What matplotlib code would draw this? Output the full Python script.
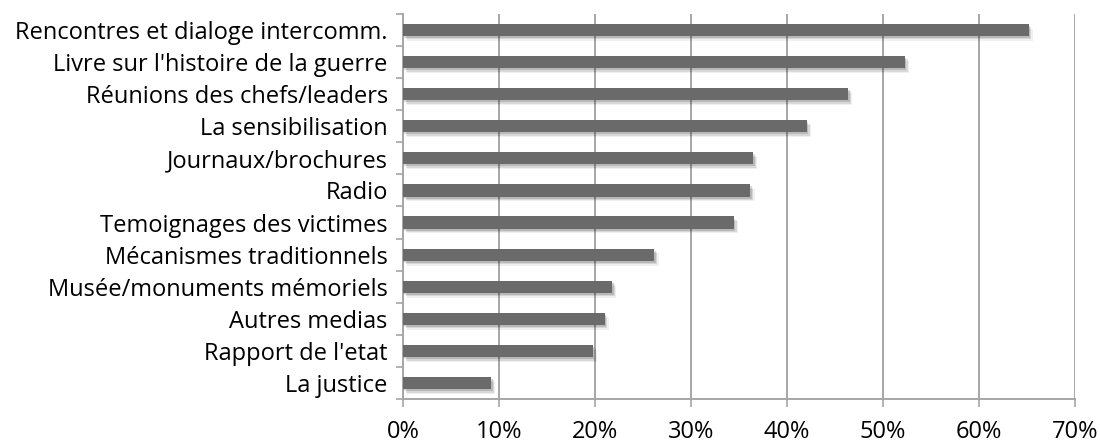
import matplotlib
matplotlib.use("Agg")
import matplotlib.pyplot as plt
import matplotlib.patheffects as pe
import numpy as np
from matplotlib.ticker import FixedLocator, PercentFormatter

plt.rcParams["font.family"] = ["Open Sans", "DejaVu Sans"]

# Share of respondents per option (in percent)
categories = [
    "Rencontres et dialoge intercomm.",
    "Livre sur l'histoire de la guerre",
    "Réunions des chefs/leaders",
    "La sensibilisation",
    "Journaux/brochures",
    "Radio",
    "Temoignages des victimes",
    "Mécanismes traditionnels",
    "Musée/monuments mémoriels",
    "Autres medias",
    "Rapport de l'etat",
    "La justice",
]
values = [65.2, 52.3, 46.4, 42.1, 36.5, 36.2, 34.5, 26.2, 21.8, 21.0, 19.8, 9.2]
x_ticks = [0, 10, 20, 30, 40, 50, 60, 70]

bar_color = "#6a6a6a"
grid_color = "#a6a6a6"
font_size = 17

fig = plt.figure(figsize=(11, 4.45), dpi=100)
ax = fig.add_axes([0.3664, 0.103, 0.6106, 0.866])

y = np.arange(len(categories))
bars = ax.barh(y, values, height=0.38, color=bar_color, zorder=3)

# soft drop shadow under each bar
shadow = [
    pe.SimplePatchShadow(offset=(3, -3.5), shadow_rgbFace="#000000", alpha=0.06),
    pe.SimplePatchShadow(offset=(2, -2.5), shadow_rgbFace="#000000", alpha=0.10),
    pe.SimplePatchShadow(offset=(1, -1.5), shadow_rgbFace="#000000", alpha=0.14),
    pe.Normal(),
]
for b in bars:
    b.set_path_effects(shadow)

ax.set_xlim(0, 70)
ax.set_ylim(len(categories) - 0.5, -0.5)

ax.set_xticks(x_ticks)
ax.xaxis.set_major_formatter(PercentFormatter(decimals=0))
ax.grid(axis="x", color=grid_color, linewidth=1.4, zorder=0)
ax.tick_params(axis="x", length=6, width=1.2, color=grid_color, pad=9,
               labelsize=font_size, labelcolor="#000000")

# category names sit between the boundary ticks
ax.yaxis.set_major_locator(FixedLocator(np.arange(-0.5, len(categories), 1)))
ax.yaxis.set_minor_locator(FixedLocator(y))
ax.set_yticklabels([], minor=False)
ax.set_yticklabels(categories, minor=True)
ax.tick_params(axis="y", which="major", length=5, width=1.2, color=grid_color)
ax.tick_params(axis="y", which="minor", length=0, pad=11, labelsize=font_size,
               labelcolor="#000000")

for side in ["top", "right"]:
    ax.spines[side].set_visible(False)
for side in ["left", "bottom"]:
    ax.spines[side].set_color(grid_color)
    ax.spines[side].set_linewidth(1.4)

fig.savefig("out.png", dpi=100)
